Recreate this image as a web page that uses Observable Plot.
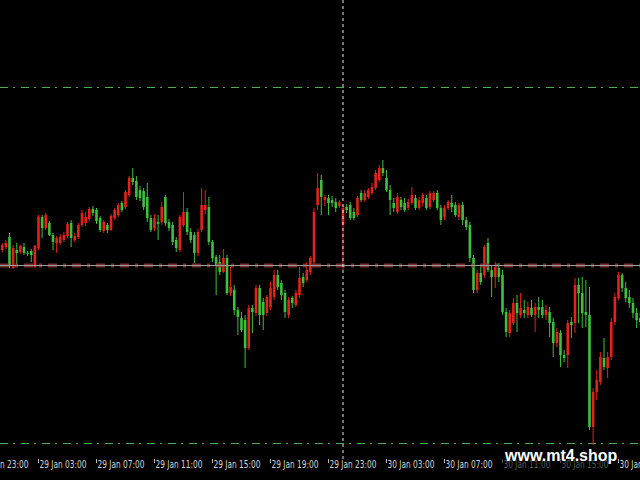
<!DOCTYPE html>
<html><head><meta charset="utf-8">
<script src="https://cdn.jsdelivr.net/npm/d3@7"></script>
<script src="https://cdn.jsdelivr.net/npm/@observablehq/plot@0.6"></script>
<style>
html,body{margin:0;padding:0;background:#000;width:640px;height:480px;overflow:hidden;}
#wrap{position:relative;width:640px;height:480px;}
#wrap svg{display:block;}
#wmbox{position:absolute;left:497px;top:449px;width:117px;height:31px;background:rgba(0,0,0,0.6);}
#wmtext{position:absolute;left:505px;top:447px;font:bold 16px "Liberation Sans",Arial,sans-serif;color:#fff;white-space:nowrap;}
</style></head><body><div id="wrap"></div>
<script>
// M15 bars, first bar 29 Jan 00:30
const firstBar = "2014-01-29T00:30:00Z";
const barMinutes = 15;
const open = [1.3615,1.3618,1.3628,1.3597,1.3615,1.3613,1.3618,1.3612,1.3614,1.3598,
1.3617,1.3648,1.3637,1.3642,1.3630,1.3622,1.3622,1.3625,1.3629,1.3642,
1.3625,1.3628,1.3640,1.3642,1.3646,1.3656,1.3655,1.3647,1.3634,1.3640,
1.3635,1.3647,1.3650,1.3662,1.3658,1.3670,1.3687,1.3684,1.3675,1.3674,
1.3668,1.3647,1.3637,1.3643,1.3643,1.3668,1.3643,1.3640,1.3625,1.3615,
1.3640,1.3653,1.3633,1.3630,1.3612,1.3635,1.3655,1.3658,1.3623,1.3608,
1.3603,1.3593,1.3607,1.3572,1.3575,1.3555,1.3547,1.3545,1.3517,1.3557,
1.3552,1.3577,1.3563,1.3552,1.3558,1.3568,1.3590,1.3582,1.3572,1.3550,
1.3567,1.3560,1.3570,1.3588,1.3585,1.3593,1.3603,1.3660,1.3685,1.3665,
1.3667,1.3665,1.3663,1.3659,1.3640,1.3658,1.3660,1.3653,1.3650,1.3672,
1.3665,1.3668,1.3672,1.3677,1.3685,1.3697,1.3687,1.3675,1.3662,1.3653,
1.3665,1.3662,1.3657,1.3662,1.3667,1.3657,1.3662,1.3667,1.3658,1.3665,
1.3672,1.3657,1.3648,1.3657,1.3662,1.3660,1.3648,1.3660,1.3645,1.3640,
1.3607,1.3575,1.3592,1.3590,1.3622,1.3595,1.3588,1.3597,1.3590,1.3553,
1.3532,1.3542,1.3562,1.3550,1.3555,1.3550,1.3557,1.3550,1.3558,1.3558,
1.3550,1.3553,1.3543,1.3522,1.3532,1.3510,1.3510,1.3543,1.3542,1.3580,
1.3572,1.3553,1.3550,1.3438,1.3473,1.3483,1.3507,1.3497,1.3508,1.3543,
1.3567,1.3590,1.3577,1.3568,1.3562,1.3552,1.3547];
const high = [1.3622,1.3625,1.3632,1.3620,1.3622,1.3620,1.3622,1.3614,1.3616,1.3620,
1.3650,1.3650,1.3652,1.3644,1.3632,1.3629,1.3631,1.3633,1.3643,1.3645,
1.3632,1.3642,1.3655,1.3653,1.3658,1.3659,1.3657,1.3649,1.3645,1.3642,
1.3651,1.3657,1.3662,1.3664,1.3675,1.3689,1.3697,1.3689,1.3679,1.3677,
1.3682,1.3650,1.3651,1.3650,1.3663,1.3670,1.3646,1.3643,1.3628,1.3650,
1.3673,1.3657,1.3637,1.3633,1.3636,1.3677,1.3675,1.3668,1.3625,1.3610,
1.3610,1.3616,1.3610,1.3598,1.3580,1.3558,1.3553,1.3550,1.3560,1.3560,
1.3580,1.3580,1.3567,1.3570,1.3583,1.3595,1.3595,1.3585,1.3575,1.3568,
1.3569,1.3575,1.3598,1.3592,1.3603,1.3609,1.3657,1.3692,1.3690,1.3670,
1.3670,1.3669,1.3667,1.3665,1.3660,1.3661,1.3663,1.3657,1.3669,1.3675,
1.3675,1.3677,1.3682,1.3695,1.3700,1.3705,1.3695,1.3680,1.3667,1.3672,
1.3668,1.3667,1.3666,1.3678,1.3670,1.3668,1.3672,1.3670,1.3674,1.3674,
1.3675,1.3660,1.3660,1.3665,1.3670,1.3663,1.3662,1.3663,1.3648,1.3643,
1.3610,1.3595,1.3600,1.3620,1.3627,1.3600,1.3603,1.3602,1.3595,1.3557,
1.3555,1.3567,1.3570,1.3572,1.3565,1.3563,1.3565,1.3562,1.3568,1.3565,
1.3560,1.3558,1.3547,1.3537,1.3535,1.3515,1.3545,1.3548,1.3587,1.3587,
1.3588,1.3585,1.3578,1.3477,1.3495,1.3513,1.3527,1.3513,1.3547,1.3572,
1.3593,1.3592,1.3583,1.3575,1.3567,1.3557,1.3553];
const low = [1.3613,1.3616,1.3597,1.3596,1.3599,1.3611,1.3610,1.3609,1.3603,1.3597,
1.3615,1.3627,1.3635,1.3629,1.3615,1.3612,1.3620,1.3623,1.3627,1.3618,
1.3623,1.3626,1.3638,1.3639,1.3644,1.3649,1.3641,1.3633,1.3632,1.3632,
1.3634,1.3645,1.3648,1.3653,1.3656,1.3668,1.3680,1.3665,1.3664,1.3655,
1.3643,1.3633,1.3634,1.3625,1.3640,1.3639,1.3634,1.3620,1.3613,1.3613,
1.3638,1.3630,1.3622,1.3602,1.3609,1.3633,1.3651,1.3620,1.3603,1.3570,
1.3590,1.3592,1.3570,1.3569,1.3550,1.3530,1.3533,1.3497,1.3515,1.3532,
1.3549,1.3540,1.3535,1.3549,1.3555,1.3565,1.3575,1.3565,1.3547,1.3547,
1.3557,1.3558,1.3567,1.3578,1.3583,1.3590,1.3601,1.3655,1.3650,1.3659,
1.3650,1.3658,1.3653,1.3657,1.3595,1.3652,1.3645,1.3645,1.3648,1.3663,
1.3663,1.3666,1.3670,1.3675,1.3683,1.3689,1.3673,1.3650,1.3653,1.3651,
1.3655,1.3653,1.3655,1.3660,1.3655,1.3655,1.3659,1.3655,1.3656,1.3663,
1.3655,1.3640,1.3645,1.3655,1.3653,1.3648,1.3645,1.3640,1.3635,1.3603,
1.3572,1.3572,1.3580,1.3587,1.3593,1.3568,1.3577,1.3583,1.3550,1.3528,
1.3528,1.3540,1.3533,1.3547,1.3547,1.3547,1.3548,1.3533,1.3547,1.3547,
1.3545,1.3528,1.3508,1.3518,1.3498,1.3503,1.3497,1.3527,1.3532,1.3542,
1.3537,1.3538,1.3435,1.3420,1.3465,1.3480,1.3495,1.3487,1.3505,1.3540,
1.3565,1.3573,1.3563,1.3557,1.3547,1.3537,1.3540];
const close = [1.3620,1.3622,1.3599,1.3617,1.3612,1.3619,1.3612,1.3611,1.3610,1.3619,
1.3648,1.3637,1.3650,1.3630,1.3623,1.3627,1.3628,1.3630,1.3641,1.3627,
1.3629,1.3640,1.3652,1.3648,1.3656,1.3652,1.3644,1.3635,1.3643,1.3635,
1.3649,1.3655,1.3660,1.3655,1.3673,1.3687,1.3683,1.3668,1.3667,1.3658,
1.3647,1.3635,1.3647,1.3641,1.3658,1.3642,1.3637,1.3623,1.3617,1.3648,
1.3653,1.3633,1.3625,1.3612,1.3633,1.3660,1.3660,1.3623,1.3607,1.3600,
1.3593,1.3607,1.3572,1.3578,1.3555,1.3548,1.3535,1.3517,1.3557,1.3553,
1.3577,1.3550,1.3550,1.3568,1.3577,1.3590,1.3578,1.3570,1.3553,1.3565,
1.3562,1.3572,1.3587,1.3582,1.3595,1.3607,1.3653,1.3677,1.3668,1.3668,
1.3662,1.3662,1.3657,1.3663,1.3657,1.3655,1.3647,1.3647,1.3667,1.3665,
1.3672,1.3675,1.3678,1.3692,1.3697,1.3692,1.3675,1.3665,1.3657,1.3668,
1.3658,1.3655,1.3663,1.3670,1.3657,1.3665,1.3670,1.3657,1.3672,1.3672,
1.3657,1.3645,1.3657,1.3663,1.3658,1.3650,1.3660,1.3645,1.3638,1.3607,
1.3575,1.3592,1.3583,1.3618,1.3595,1.3588,1.3598,1.3588,1.3553,1.3533,
1.3552,1.3562,1.3552,1.3557,1.3552,1.3558,1.3550,1.3558,1.3555,1.3550,
1.3555,1.3542,1.3522,1.3533,1.3510,1.3507,1.3542,1.3540,1.3580,1.3572,
1.3552,1.3550,1.3438,1.3473,1.3485,1.3508,1.3498,1.3508,1.3543,1.3568,
1.3590,1.3577,1.3567,1.3562,1.3552,1.3545,1.3543];

// horizontal levels and day separator
const supportResistance = [1.3778, 1.3422];
const pivotLevel = [1.3600];
const daySeparators = ["2014-01-30T00:00:00Z"];

// time axis
const tickTimes = ["2014-01-28T23:00:00Z","2014-01-29T03:00:00Z","2014-01-29T07:00:00Z","2014-01-29T11:00:00Z",
"2014-01-29T15:00:00Z","2014-01-29T19:00:00Z","2014-01-29T23:00:00Z","2014-01-30T03:00:00Z",
"2014-01-30T07:00:00Z","2014-01-30T11:00:00Z","2014-01-30T15:00:00Z","2014-01-30T19:00:00Z"];
const tickLabels = ["28 Jan 23:00","29 Jan 03:00","29 Jan 07:00","29 Jan 11:00","29 Jan 15:00","29 Jan 19:00",
"29 Jan 23:00","30 Jan 03:00","30 Jan 07:00","30 Jan 11:00","30 Jan 15:00","30 Jan 19:00"];

const t0 = new Date(firstBar).getTime();
const bars = open.map((o, i) => ({
  t: new Date(t0 + i * barMinutes * 60000),
  o, h: high[i], l: low[i], c: close[i]
}));
const ticks = tickTimes.map(s => new Date(s));
const RED = "#e3231b", GREEN = "#3fbf3f";
const col = d => d.c >= d.o ? RED : GREEN;

const chart = Plot.plot({
  width: 640, height: 480,
  marginTop: 0, marginRight: 0, marginLeft: 0, marginBottom: 21,
  style: {background: "#000", overflow: "visible"},
  x: {type: "utc", domain: [new Date("2014-01-29T00:22:45Z"), new Date("2014-01-30T20:31:03Z")], axis: null},
  y: {domain: [1.3406, 1.3865], axis: null},
  marks: [
    Plot.ruleY(supportResistance, {stroke: "#48b048", strokeWidth: 1, strokeDasharray: "8,5,2,6"}),
    Plot.ruleX(bars, {x: "t", y1: "l", y2: "h", stroke: col, strokeWidth: 1}),
    Plot.ruleX(bars, {x: "t", y1: "o", y2: "c", stroke: col, strokeWidth: 2.6}),
    Plot.ruleY(pivotLevel, {stroke: "#8c3832", strokeWidth: 4, strokeDasharray: "9,6,3,6", strokeOpacity: 0.85}),
    Plot.ruleY(pivotLevel, {stroke: "#9c9c9c", strokeWidth: 1}),
    Plot.ruleX(daySeparators.map(s => new Date(s)), {stroke: "#e8e8e8", strokeWidth: 1, strokeDasharray: "3,3"}),
    Plot.axisX({ticks, tickSize: 4, tickFormat: () => "", stroke: "#b8b8b8", anchor: "bottom"}),
    Plot.text(ticks, {x: d => d, text: (d, i) => tickLabels[i], frameAnchor: "bottom", dy: 8, dx: 1,
      textAnchor: "start", fill: "#d4d4d4", fontSize: 10, fontFamily: "DejaVu Sans"})
  ]
});
chart.querySelectorAll('text').forEach(t => {
  if (tickLabels.includes(t.textContent.trim())) {
    t.setAttribute("textLength", "47");
    t.setAttribute("lengthAdjust", "spacingAndGlyphs");
  }
});
const wrap = document.getElementById("wrap");
wrap.appendChild(chart);
const box = document.createElement("div"); box.id = "wmbox"; wrap.appendChild(box);
const wm = document.createElement("div"); wm.id = "wmtext"; wm.textContent = "www.mt4.shop"; wrap.appendChild(wm);
</script>
</body></html>
